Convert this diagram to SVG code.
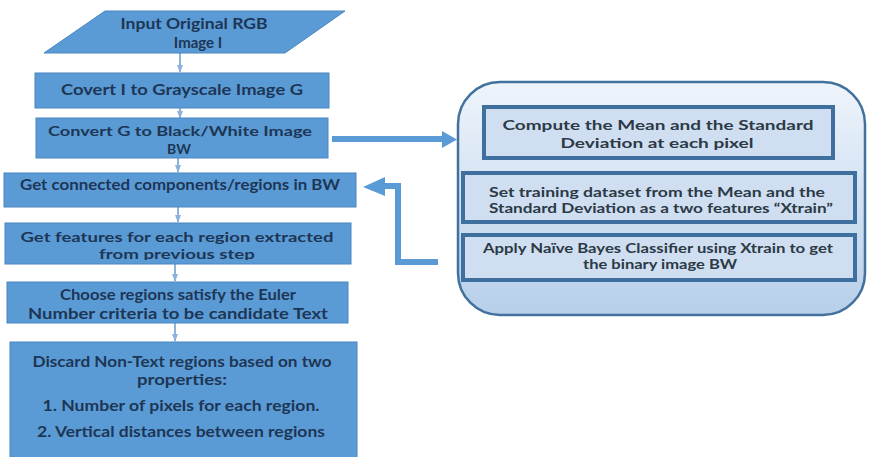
<svg xmlns="http://www.w3.org/2000/svg" width="869" height="457" viewBox="0 0 869 457">
<style>
.box{fill:#5b9bd5;stroke:#4a86c2;stroke-width:1}
.t{font-family:Lato,"Open Sans","Liberation Sans",sans-serif;font-weight:bold;font-size:15px;fill:#1d3656;text-anchor:middle}
.t2{font-size:14px}
.rt{font-family:Lato,"Open Sans","Liberation Sans",sans-serif;font-weight:bold;font-size:13px;fill:#2c3946;text-anchor:middle}
.ibox{fill:#cfdff1;stroke:#3f6f9e;stroke-width:4}
.thin{stroke:#8db3dc;stroke-width:2;fill:none}
.big{stroke:#5b9bd5;stroke-width:6;fill:none}
</style>
<defs>
<linearGradient id="pg" x1="0" y1="0" x2="0" y2="1">
<stop offset="0" stop-color="#eef4fb"/>
<stop offset="1" stop-color="#b7cfea"/>
</linearGradient>
<marker id="sa" markerWidth="8" markerHeight="6" refX="7" refY="3" orient="auto" markerUnits="userSpaceOnUse">
<path d="M0,0 L8,3 L0,6 Z" fill="#8db3dc"/>
</marker>
<marker id="ka" markerWidth="8" markerHeight="7" refX="7" refY="3.5" orient="auto" markerUnits="userSpaceOnUse">
<path d="M0,0 L8,3.5 L0,7 Z" fill="#111"/>
</marker>
<clipPath id="c3"><rect x="36" y="118" width="292" height="39"/></clipPath>
<clipPath id="c5"><rect x="5" y="223" width="346" height="37"/></clipPath>
</defs>

<g id="connectors">
<line class="thin" x1="180" y1="53" x2="180" y2="72" marker-end="url(#sa)"/>
<line class="thin" x1="180" y1="108" x2="180" y2="118" marker-end="url(#sa)"/>
<line class="thin" x1="178" y1="158" x2="178" y2="172" marker-end="url(#sa)"/>
<line class="thin" x1="178" y1="207" x2="178" y2="222" marker-end="url(#sa)"/>
<line class="thin" x1="175" y1="264" x2="175" y2="281" marker-end="url(#sa)"/>
<line class="thin" x1="175" y1="323" x2="175" y2="341" marker-end="url(#sa)"/>
<line class="big" x1="332" y1="139" x2="444" y2="139"/>
<path d="M442,131 L457,139.5 L442,148 Z" fill="#5b9bd5"/>
<path class="big" d="M438,262 L398,262 L398,186 L383,186"/>
<path d="M385,177 L363,187 L385,196 Z" fill="#5b9bd5"/>
<line x1="655" y1="158" x2="655" y2="171" stroke="#111" stroke-width="1.3" marker-end="url(#ka)"/>
<line x1="655" y1="222" x2="655" y2="234" stroke="#111" stroke-width="1.3" marker-end="url(#ka)"/>
</g>

<g id="n1">
<polygon class="box" points="105,11 345,11 285,53 44,53"/>
<text class="t" x="194" y="29" textLength="147" lengthAdjust="spacingAndGlyphs">Input Original RGB</text>
<text class="t" x="198" y="48">Image I</text>
</g>
<g id="n2">
<rect class="box" x="35" y="73" width="294" height="35"/>
<text class="t" x="182" y="95" textLength="242" lengthAdjust="spacingAndGlyphs">Covert I to Grayscale Image G</text>
</g>
<g id="n3">
<rect class="box" x="36" y="118" width="292" height="40"/>
<g clip-path="url(#c3)">
<text class="t t2" x="180" y="136" textLength="264" lengthAdjust="spacingAndGlyphs">Convert G to Black/White Image</text>
<text class="t t2" x="179" y="154">BW</text>
</g>
</g>
<g id="n4">
<rect class="box" x="4" y="173" width="352" height="34"/>
<text class="t" x="180" y="190" textLength="320" lengthAdjust="spacingAndGlyphs">Get connected components/regions in BW</text>
</g>
<g id="n5">
<rect class="box" x="5" y="223" width="346" height="41"/>
<g clip-path="url(#c5)">
<text class="t t2" x="177" y="242" textLength="313" lengthAdjust="spacingAndGlyphs">Get features for each region extracted</text>
<text class="t t2" x="177" y="259" textLength="156" lengthAdjust="spacingAndGlyphs">from previous step</text>
</g>
</g>
<g id="n6">
<rect class="box" x="7" y="282" width="341" height="41"/>
<text class="t" x="178" y="300" textLength="236" lengthAdjust="spacingAndGlyphs">Choose regions satisfy the Euler</text>
<text class="t" x="178" y="319" textLength="300" lengthAdjust="spacingAndGlyphs">Number criteria to be candidate Text</text>
</g>
<g id="n7">
<rect class="box" x="10" y="342" width="347" height="120"/>
<text class="t" x="182" y="367" textLength="299" lengthAdjust="spacingAndGlyphs">Discard Non-Text regions based on two</text>
<text class="t" x="182" y="385" textLength="90" lengthAdjust="spacingAndGlyphs">properties:</text>
<text class="t" x="181" y="411" textLength="277" lengthAdjust="spacingAndGlyphs">1. Number of pixels for each region.</text>
<text class="t" x="181" y="437" textLength="288" lengthAdjust="spacingAndGlyphs">2. Vertical distances between regions</text>
</g>

<g id="panel">
<rect x="458" y="82" width="407" height="233" rx="42" ry="42" fill="url(#pg)" stroke="#41719c" stroke-width="2.5"/>
</g>
<g id="r1">
<rect class="ibox" x="484" y="107" width="349" height="51"/>
<text class="rt" x="658" y="130" textLength="311" lengthAdjust="spacingAndGlyphs">Compute the Mean and the Standard</text>
<text class="rt" x="657" y="148" textLength="193" lengthAdjust="spacingAndGlyphs">Deviation at each pixel</text>
</g>
<g id="r2">
<rect class="ibox" x="463" y="173" width="392" height="49"/>
<text class="rt" x="657" y="197" textLength="336" lengthAdjust="spacingAndGlyphs">Set training dataset from the Mean and the</text>
<text class="rt" x="661" y="213" textLength="344" lengthAdjust="spacingAndGlyphs">Standard Deviation as a two features “Xtrain”</text>
</g>
<g id="r3">
<rect class="ibox" x="463" y="235" width="392" height="45"/>
<text class="rt" x="658" y="253" textLength="350" lengthAdjust="spacingAndGlyphs">Apply Naïve Bayes Classifier using Xtrain to get</text>
<text class="rt" x="660" y="269" textLength="154" lengthAdjust="spacingAndGlyphs">the binary image BW</text>
</g>
</svg>
